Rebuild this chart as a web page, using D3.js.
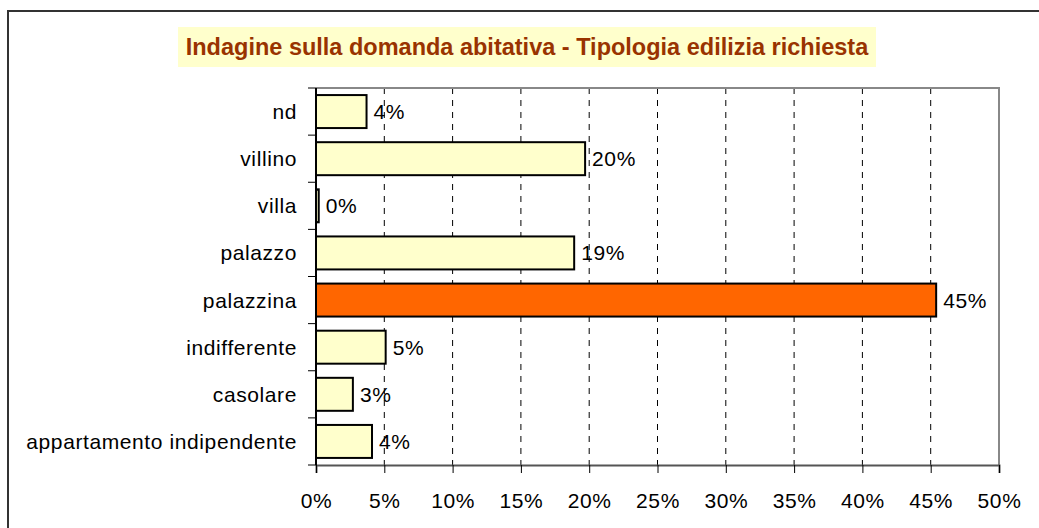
<!DOCTYPE html>
<html>
<head>
<meta charset="utf-8">
<script src="https://cdn.jsdelivr.net/npm/d3@7"></script>
<style>
  body { margin: 0; background: #fff; }
  text { font-family: Arial, "Liberation Sans", sans-serif; }
</style>
</head>
<body>
<svg id="chart" width="1039" height="528"></svg>
<script>
const categories = ["nd", "villino", "villa", "palazzo", "palazzina", "indifferente", "casolare", "appartamento indipendente"];
const values = [3.7, 19.7, 0.2, 18.9, 45.4, 5.1, 2.7, 4.1];
const labels = ["4%", "20%", "0%", "19%", "45%", "5%", "3%", "4%"];
const highlight = "palazzina";
const xTicks = [0, 5, 10, 15, 20, 25, 30, 35, 40, 45, 50];
const title = "Indagine sulla domanda abitativa - Tipologia edilizia richiesta";

var svg = d3.select("#chart");
var margin = { top: 88, left: 316, right: 40, bottom: 63 };
var width = 999 - margin.left;
var height = 465 - margin.top;
var fontSize = "21px";
var spacing = "0.6px";

// outer frame
svg.append("rect")
   .attr("x", 8).attr("y", 11)
   .attr("width", 1040).attr("height", 530)
   .attr("fill", "none")
   .attr("stroke", "#333")
   .attr("stroke-width", 2);

// title box
var titleG = svg.append("g");
titleG.append("rect")
   .attr("x", 178).attr("y", 27)
   .attr("width", 698).attr("height", 40)
   .attr("fill", "#ffffcc");
titleG.append("text")
   .attr("x", 527).attr("y", 55)
   .attr("text-anchor", "middle")
   .attr("font-size", "23.5px")
   .attr("font-weight", "bold")
   .attr("fill", "#993300")
   .text(title);

var g = svg.append("g")
   .attr("transform", "translate(" + margin.left + "," + margin.top + ")");

var x = d3.scaleLinear().domain([0, 50]).range([0, width]);
var y = d3.scaleBand().domain(categories).range([0, height]).paddingInner(0.3).paddingOuter(0.15);

// dashed gridlines
g.selectAll(".grid")
 .data(xTicks.filter(function (t) { return t > 0 && t < 50; }))
 .enter().append("line")
 .attr("x1", function (d) { return x(d); })
 .attr("x2", function (d) { return x(d); })
 .attr("y1", 0).attr("y2", height)
 .attr("stroke", "#000")
 .attr("stroke-width", 1)
 .attr("stroke-dasharray", "6,6");

// plot border top/right
g.append("path")
 .attr("d", "M0,0H" + width + "V" + height)
 .attr("fill", "none")
 .attr("stroke", "#888")
 .attr("stroke-width", 2);

// bars
g.selectAll(".bar")
 .data(categories)
 .enter().append("rect")
 .attr("x", 0)
 .attr("y", function (d) { return y(d); })
 .attr("width", function (d, i) { return x(values[i]); })
 .attr("height", y.bandwidth())
 .attr("fill", function (d) { return d === highlight ? "#ff6600" : "#ffffcc"; })
 .attr("stroke", "#000")
 .attr("stroke-width", 2);

// value labels
g.selectAll(".val")
 .data(categories)
 .enter().append("text")
 .attr("x", function (d, i) { return x(values[i]) + 7; })
 .attr("y", function (d) { return y(d) + y.bandwidth() / 2; })
 .attr("dy", "0.36em")
 .attr("font-size", fontSize)
 .attr("letter-spacing", spacing)
 .attr("fill", "#000")
 .text(function (d, i) { return labels[i]; });

// x axis
var xAxis = g.append("g")
 .attr("transform", "translate(0," + height + ")")
 .call(d3.axisBottom(x).tickValues(xTicks).tickSize(8).tickPadding(20)
        .tickFormat(function (d) { return d + "%"; }));
xAxis.select(".domain").attr("stroke", "#555").attr("stroke-width", 2);
xAxis.selectAll(".tick line").attr("stroke", "#000");
xAxis.selectAll("text").attr("font-size", fontSize).attr("letter-spacing", spacing).attr("fill", "#000");

// y axis
var yTickPos = d3.range(categories.length + 1).map(function (i) {
  return i === 0 ? 0 : (i === categories.length ? height : y(categories[i]) - y.step() * y.paddingInner() / 2);
});
g.selectAll(".ytick")
 .data(yTickPos)
 .enter().append("line")
 .attr("x1", -8).attr("x2", 0)
 .attr("y1", function (d) { return d; })
 .attr("y2", function (d) { return d; })
 .attr("stroke", "#000");
g.append("line")
 .attr("x1", 0).attr("x2", 0).attr("y1", 0).attr("y2", height)
 .attr("stroke", "#000").attr("stroke-width", 2);
g.selectAll(".cat")
 .data(categories)
 .enter().append("text")
 .attr("x", -19)
 .attr("y", function (d) { return y(d) + y.bandwidth() / 2; })
 .attr("dy", "0.36em")
 .attr("text-anchor", "end")
 .attr("font-size", fontSize)
 .attr("letter-spacing", spacing)
 .attr("fill", "#000")
 .text(function (d) { return d; });
</script>
</body>
</html>
